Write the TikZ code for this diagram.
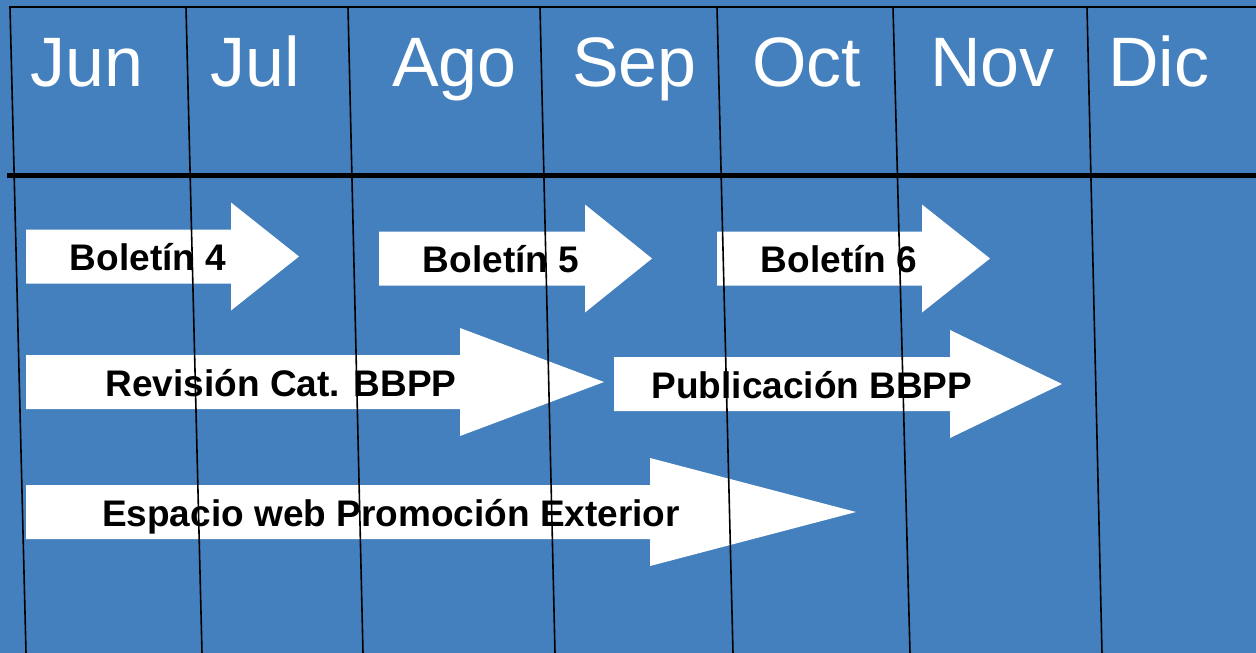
\documentclass[tikz,border=0pt]{standalone}
\usepackage{fontspec}
\setmainfont{Liberation Sans}
\definecolor{fondo}{RGB}{67,128,189}
\tikzset{
	mes/.style={text=white,anchor=base west,inner sep=0pt,font=\fontsize{70}{70}\selectfont},
	tarea/.style={anchor=base,inner sep=0pt,font=\bfseries\fontsize{37}{37}\selectfont},
	raya/.style={line width=1.6pt},
}
% arrow: start, head base, tip, middle height
\newcommand{\flecha}[4]{%
	\fill[white] (#1,{#4-27}) -- (#2,{#4-27}) -- (#2,{#4-54}) -- (#3,#4)
	-- (#2,{#4+54}) -- (#2,{#4+27}) -- (#1,{#4+27}) -- cycle;}

\begin{document}
\begin{tikzpicture}[x=1pt,y=-1pt]
\fill[fondo] (0,0) rectangle (1256,653);
\useasboundingbox (0,0) rectangle (1256,653);
% months
\node[mes] (jun) at (30,86) {Jun};
\node[mes] (jul) at (210,86) {Jul};
\node[mes] (ago) at (392,86) {Ago};
\node[mes] (sep) at (572,86) {Sep};
\node[mes] (oct) at (752,86) {Oct};
\node[mes] (nov) at (930,86) {Nov};
\node[mes] (dic) at (1108,86) {Dic};
% arrows
\flecha{26}{231}{299}{256.5}
\flecha{379}{585}{652}{258.5}
\flecha{717}{922}{990}{258.5}
\flecha{26}{460}{604}{382}
\flecha{614}{950}{1062}{384}
\flecha{26}{650}{856}{512}
\node[tarea] (bol4) at (148,270) {Boletín 4};
\node[tarea] (bol5) at (501,272) {Boletín 5};
\node[tarea] (bol6) at (839,272) {Boletín 6};
\node[tarea] (rev) at (281,396) {Revisión Cat. BBPP};
\node[tarea] (pub) at (812,398) {Publicación BBPP};
\node[tarea] (esp) at (391,526) {Espacio web Promoción Exterior};
% grid
\draw[raya] (9,7) -- (1256,7);
\draw[line width=5pt] (7,175.5) -- (1256,175.5);
\draw[raya] (10,7) -- (26,653);
\draw[raya] (186,7) -- (202,653);
\draw[raya] (348,7) -- (363,653);
\draw[raya] (540,7) -- (555,653);
\draw[raya] (717,7) -- (733,653);
\draw[raya] (893,7) -- (910,653);
\draw[raya] (1087,7) -- (1102,653);
\end{tikzpicture}
\end{document}
